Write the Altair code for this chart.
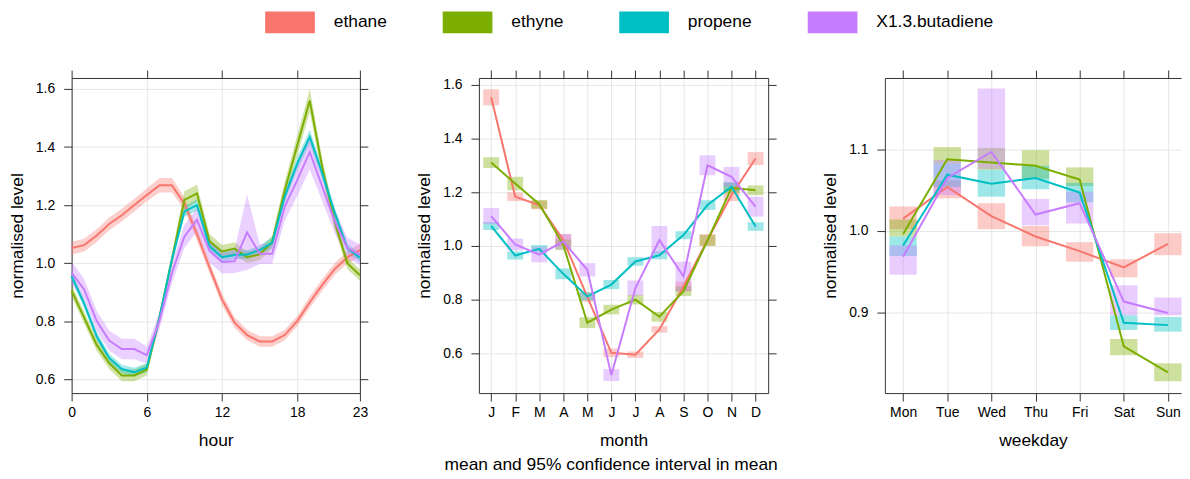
import altair as alt
import pandas as pd

FONT = "Liberation Sans"

species = ["ethane", "ethyne", "propene", "X1.3.butadiene"]
colors = ["#F8766D", "#7CAE00", "#00BFC4", "#C77CFF"]

# ---------------- hour ----------------
hours = list(range(24))
hour_mean = {
    "ethane": [1.052, 1.062, 1.095, 1.135, 1.165, 1.200, 1.235, 1.268, 1.268, 1.205, 1.100, 0.985,
               0.875, 0.795, 0.752, 0.730, 0.730, 0.752, 0.800, 0.865, 0.925, 0.980, 1.020, 1.045],
    "ethyne": [0.905, 0.812, 0.718, 0.655, 0.613, 0.613, 0.633, 0.810, 1.012, 1.218, 1.240, 1.075,
               1.040, 1.050, 1.020, 1.030, 1.072, 1.250, 1.405, 1.560, 1.330, 1.140, 1.000, 0.958],
    "propene": [0.955, 0.860, 0.748, 0.673, 0.635, 0.624, 0.640, 0.810, 1.012, 1.178, 1.200, 1.058,
                1.020, 1.028, 1.030, 1.045, 1.070, 1.229, 1.343, 1.435, 1.309, 1.172, 1.052, 1.018],
    "X1.3.butadiene": [0.966, 0.909, 0.800, 0.733, 0.704, 0.704, 0.683, 0.800, 0.966, 1.092, 1.149, 1.042,
                       1.004, 1.006, 1.106, 1.032, 1.032, 1.195, 1.286, 1.383, 1.263, 1.143, 1.052, 1.029],
}
hour_ci = {
    "ethane": [0.022, 0.022, 0.022, 0.022, 0.022, 0.022, 0.022, 0.025, 0.025, 0.022, 0.022, 0.020,
               0.020, 0.018, 0.018, 0.018, 0.018, 0.018, 0.018, 0.020, 0.020, 0.020, 0.022, 0.022],
    "ethyne": [0.020, 0.020, 0.020, 0.020, 0.020, 0.020, 0.020, 0.020, 0.022, 0.030, 0.030, 0.025,
               0.022, 0.022, 0.020, 0.020, 0.022, 0.030, 0.035, 0.040, 0.030, 0.025, 0.020, 0.020],
    "propene": [0.015, 0.015, 0.015, 0.015, 0.015, 0.015, 0.015, 0.015, 0.015, 0.018, 0.020, 0.018,
                0.015, 0.015, 0.015, 0.015, 0.018, 0.020, 0.022, 0.025, 0.022, 0.018, 0.015, 0.015],
    "X1.3.butadiene": [0.040, 0.035, 0.035, 0.035, 0.035, 0.035, 0.030, 0.030, 0.035, 0.040, 0.040, 0.040,
                       0.040, 0.040, 0.130, 0.035, 0.035, 0.050, 0.055, 0.060, 0.050, 0.040, 0.035, 0.035],
}

# ---------------- month ----------------
months = list(range(1, 13))
month_labels = ["J", "F", "M", "A", "M", "J", "J", "A", "S", "O", "N", "D"]
month_mean = {
    "ethane": [1.553, 1.183, 1.152, 1.022, 0.810, 0.602, 0.595, 0.689, 0.849, 1.022, 1.189, 1.325],
    "ethyne": [1.310, 1.232, 1.155, 1.004, 0.714, 0.763, 0.800, 0.736, 0.831, 1.020, 1.216, 1.207],
    "propene": [1.074, 0.964, 0.989, 0.896, 0.812, 0.856, 0.942, 0.965, 1.040, 1.152, 1.220, 1.072],
    "X1.3.butadiene": [1.111, 1.005, 0.967, 1.016, 0.911, 0.519, 0.843, 1.022, 0.886, 1.300, 1.257, 1.146],
}
month_ci = {
    "ethane": [0.030, 0.016, 0.016, 0.022, 0.018, 0.016, 0.012, 0.012, 0.018, 0.022, 0.022, 0.024],
    "ethyne": [0.020, 0.025, 0.016, 0.020, 0.020, 0.018, 0.018, 0.018, 0.018, 0.020, 0.020, 0.018],
    "propene": [0.015, 0.015, 0.014, 0.020, 0.015, 0.017, 0.016, 0.015, 0.015, 0.018, 0.017, 0.016],
    "X1.3.butadiene": [0.030, 0.022, 0.028, 0.028, 0.025, 0.022, 0.028, 0.052, 0.055, 0.037, 0.037, 0.037],
}

# ---------------- weekday (interval bounds read directly) ----------------
days = list(range(1, 8))
day_labels = ["Mon", "Tue", "Wed", "Thu", "Fri", "Sat", "Sun"]
day_mean = {
    "ethane": [1.015, 1.054, 1.018, 0.993, 0.975, 0.955, 0.984],
    "ethyne": [0.996, 1.088, 1.084, 1.080, 1.063, 0.858, 0.826],
    "propene": [0.982, 1.069, 1.058, 1.065, 1.047, 0.887, 0.884],
    "X1.3.butadiene": [0.968, 1.065, 1.097, 1.020, 1.034, 0.913, 0.899],
}
day_lo = {
    "ethane": [1.002, 1.040, 1.002, 0.981, 0.962, 0.943, 0.970],
    "ethyne": [0.993, 1.083, 1.075, 1.064, 1.055, 0.847, 0.815],
    "propene": [0.969, 1.054, 1.042, 1.051, 1.035, 0.878, 0.876],
    "X1.3.butadiene": [0.946, 1.044, 1.076, 1.007, 1.009, 0.896, 0.896],
}
day_hi = {
    "ethane": [1.030, 1.062, 1.034, 1.006, 0.986, 0.965, 0.997],
    "ethyne": [1.014, 1.103, 1.102, 1.099, 1.078, 0.867, 0.837],
    "propene": [0.993, 1.083, 1.075, 1.080, 1.059, 0.896, 0.894],
    "X1.3.butadiene": [0.982, 1.087, 1.175, 1.039, 1.048, 0.933, 0.918],
}


def long_table(xs, means, cis):
    rows = []
    for sp in species:
        for x, m, c in zip(xs, means[sp], cis[sp]):
            rows.append({"species": sp, "x": x, "mean": m, "lo": m - c, "hi": m + c})
    return pd.DataFrame(rows)


def long_table_bounds(xs, means, los, his):
    rows = []
    for sp in species:
        for x, m, lo, hi in zip(xs, means[sp], los[sp], his[sp]):
            rows.append({"species": sp, "x": x, "mean": m, "lo": lo, "hi": hi})
    return pd.DataFrame(rows)


df_h = long_table(hours, hour_mean, hour_ci)
df_m = long_table(months, month_mean, month_ci)
df_d = long_table_bounds(days, day_mean, day_lo, day_hi)

cscale = alt.Scale(domain=species, range=colors)
legend = alt.Legend(
    orient="none", legendX=208.7, legendY=-67, direction="horizontal", title=None,
    symbolType="M-2.273,-0.986L2.273,-0.986L2.273,0.986L-2.273,0.986Z", symbolSize=484,
    symbolStrokeWidth=0, symbolOpacity=1, labelFontSize=17.5, labelFont=FONT,
    labelOffset=33, columnPadding=54.6, labelColor="#000000", padding=0,
)
color = alt.Color("species:N", scale=cscale, legend=legend, sort=species)

W1, W2, W3, H = 290, 291, 298, 317
DOMAIN = dict(domain=True, domainColor="#333333", domainWidth=1)


def x_axis_bottom(values, title, label_expr=None):
    kw = dict(values=values, title=title, grid=True, orient="bottom", labelPadding=5,
              titlePadding=12, **DOMAIN)
    if label_expr:
        kw["labelExpr"] = label_expr
    return alt.Axis(**kw)


def y_axis_left(values):
    return alt.Axis(values=values, title="normalised level", grid=True, orient="left",
                    format=".1f", labelPadding=9, titlePadding=9, **DOMAIN)


def x_axis_top(values):
    return alt.Axis(values=values, title=None, grid=False, orient="top", labels=False, **DOMAIN)


def y_axis_right(values):
    return alt.Axis(values=values, title=None, grid=False, orient="right", labels=False, **DOMAIN)


# ---- panel 1: hour ----
hx = alt.Scale(domain=[0, 23], nice=False, zero=False)
hy = alt.Scale(domain=[0.552, 1.638], nice=False, zero=False)
h_xt = [0, 6, 12, 18, 23]
h_yt = [0.6, 0.8, 1.0, 1.2, 1.4, 1.6]
base_h = alt.Chart(df_h)
band_h = base_h.mark_area(opacity=0.35).encode(
    x=alt.X("x:Q", scale=hx, axis=x_axis_bottom(h_xt, "hour")),
    y=alt.Y("lo:Q", scale=hy, axis=y_axis_left(h_yt)),
    y2="hi:Q",
    color=color,
)
line_h = base_h.mark_line(strokeWidth=2).encode(
    x=alt.X("x:Q", scale=hx, axis=x_axis_top(h_xt)),
    y=alt.Y("mean:Q", scale=hy, axis=y_axis_right(h_yt)),
    color=color,
)
p1 = alt.layer(band_h, line_h).resolve_axis(x="independent", y="independent").properties(
    width=W1, height=H)

# ---- panel 2: month ----
mx = alt.Scale(domain=[0.489, 12.524], nice=False, zero=False)
my = alt.Scale(domain=[0.452, 1.625], nice=False, zero=False)
m_yt = [0.6, 0.8, 1.0, 1.2, 1.4, 1.6]
m_expr = "[" + ",".join("'%s'" % s for s in month_labels) + "][datum.value - 1]"
base_m = alt.Chart(df_m)
rect_m = base_m.transform_calculate(x1="datum.x - 0.33", x2="datum.x + 0.33").mark_rect(
    opacity=0.38).encode(
    x=alt.X("x1:Q", scale=mx, axis=x_axis_bottom(months, "month", m_expr)),
    x2="x2:Q",
    y=alt.Y("lo:Q", scale=my, axis=y_axis_left(m_yt)),
    y2="hi:Q",
    color=color,
)
line_m = base_m.mark_line(strokeWidth=2).encode(
    x=alt.X("x:Q", scale=mx, axis=x_axis_top(months)),
    y=alt.Y("mean:Q", scale=my, axis=y_axis_right(m_yt)),
    color=color,
)
p2 = alt.layer(rect_m, line_m).resolve_axis(x="independent", y="independent").properties(
    width=W2, height=H,
    title=alt.TitleParams("mean and 95% confidence interval in mean", orient="bottom",
                          anchor="middle", frame="group", baseline="top", offset=7,
                          dx=-12.5, fontSize=17.5, fontWeight="normal", font=FONT,
                          color="#000000"),
)

# ---- panel 3: weekday ----
dx_ = alt.Scale(domain=[0.587, 7.299], nice=False, zero=False)
dy_ = alt.Scale(domain=[0.8004, 1.188], nice=False, zero=False)
d_yt = [0.9, 1.0, 1.1]
d_expr = "[" + ",".join("'%s'" % s for s in day_labels) + "][datum.value - 1]"
base_d = alt.Chart(df_d)
rect_d = base_d.transform_calculate(x1="datum.x - 0.31", x2="datum.x + 0.31").mark_rect(
    opacity=0.38).encode(
    x=alt.X("x1:Q", scale=dx_, axis=x_axis_bottom(days, "weekday", d_expr)),
    x2="x2:Q",
    y=alt.Y("lo:Q", scale=dy_, axis=y_axis_left(d_yt)),
    y2="hi:Q",
    color=color,
)
line_d = base_d.mark_line(strokeWidth=2).encode(
    x=alt.X("x:Q", scale=dx_, axis=x_axis_top(days)),
    y=alt.Y("mean:Q", scale=dy_, axis=None),
    color=color,
)
p3 = alt.layer(rect_d, line_d).resolve_axis(x="independent", y="independent").properties(
    width=W3, height=H)

chart = alt.hconcat(alt.hconcat(p1, p2, spacing=46.7), p3, spacing=43.1).properties(
    padding={"left": 0, "top": 2, "right": 0, "bottom": 0}
).configure_view(stroke="transparent", strokeWidth=0, strokeOpacity=0).configure_axis(
    labelFont=FONT, titleFont=FONT, labelFontSize=14, titleFontSize=17.5,
    titleFontWeight="normal", labelColor="#000000", titleColor="#000000",
    tickColor="#333333", tickSize=8, tickWidth=1,
    gridColor="#E6E6E6", gridWidth=1, labelFlush=False,
).configure_legend(labelFont=FONT)

chart.save("out.html", embed_options={"renderer": "svg", "actions": False})
